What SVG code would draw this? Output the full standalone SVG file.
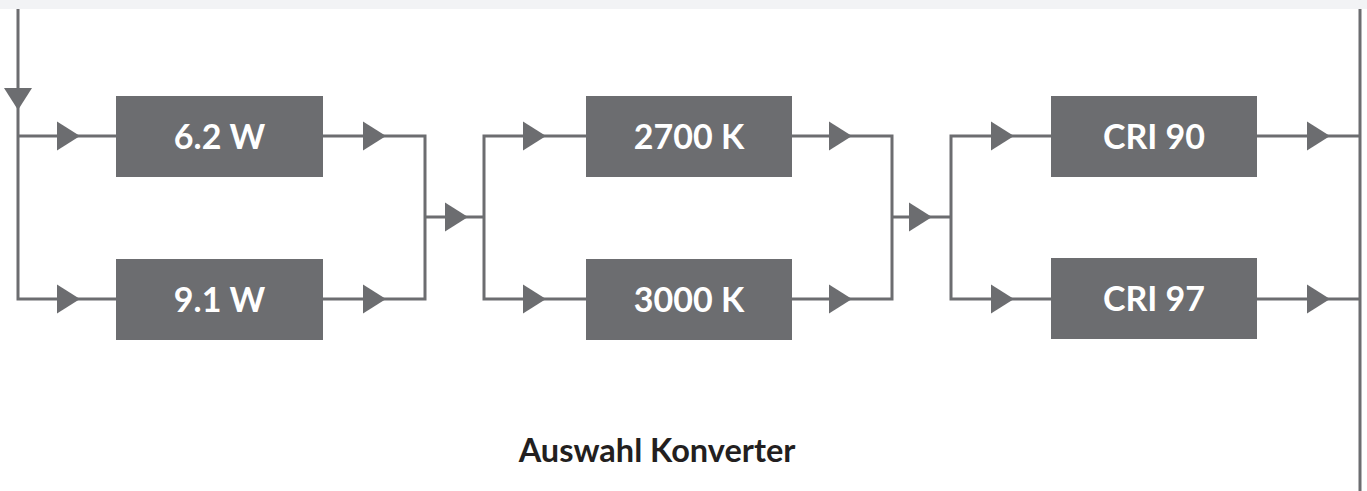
<svg xmlns="http://www.w3.org/2000/svg" xmlns:xlink="http://www.w3.org/1999/xlink" width="1367" height="491" viewBox="0 0 1367 491">
<style>
.box{fill:#6c6d70}
.lbl{font-family:Lato,"Open Sans",sans-serif;font-weight:700;font-size:34px;fill:#ffffff;text-anchor:middle}
.title{font-family:Lato,"Open Sans",sans-serif;font-weight:700;font-size:32.5px;fill:#231f20;text-anchor:middle}
.ln{fill:none;stroke:#6c6d70;stroke-width:3}
.ah{fill:#6c6d70}
</style>
<defs>
<path id="ar" d="M0,-14.5 L23,0 L0,14.5 Z"/>
</defs>
<rect x="0" y="0" width="1367" height="9" fill="#f2f3f5"/>
<g id="connectors">
<path class="ln" d="M18,9 V299 H116 M18,136 H116"/>
<path class="ln" d="M323,136 H425 V299 H323 M425,217 H484 M586,136 H484 V299 H586"/>
<path class="ln" d="M792,136 H892 V299 H792 M892,217 H951 M1051,136 H951 V299 H1051"/>
<path class="ln" d="M1257,136 H1360 M1257,299 H1360 M1360,9 V491"/>
<polygon class="ah" points="4,88 32,88 18,110"/>
<use href="#ar" class="ah" x="57" y="136"/>
<use href="#ar" class="ah" x="57" y="299"/>
<use href="#ar" class="ah" x="363" y="136"/>
<use href="#ar" class="ah" x="363" y="299"/>
<use href="#ar" class="ah" x="445" y="217"/>
<use href="#ar" class="ah" x="523" y="136"/>
<use href="#ar" class="ah" x="523" y="299"/>
<use href="#ar" class="ah" x="829" y="136"/>
<use href="#ar" class="ah" x="829" y="299"/>
<use href="#ar" class="ah" x="909" y="217"/>
<use href="#ar" class="ah" x="991" y="136"/>
<use href="#ar" class="ah" x="991" y="299"/>
<use href="#ar" class="ah" x="1307" y="136"/>
<use href="#ar" class="ah" x="1307" y="299"/>
</g>
<g id="n62w"><rect class="box" x="116" y="96" width="207" height="81"/><text class="lbl" x="219.5" y="149">6.2 W</text></g>
<g id="n91w"><rect class="box" x="116" y="259" width="207" height="81"/><text class="lbl" x="219.5" y="312">9.1 W</text></g>
<g id="n2700k"><rect class="box" x="586" y="96" width="206" height="81"/><text class="lbl" x="689" y="149">2700 K</text></g>
<g id="n3000k"><rect class="box" x="586" y="259" width="206" height="81"/><text class="lbl" x="689" y="312">3000 K</text></g>
<g id="ncri90"><rect class="box" x="1051" y="96" width="206" height="81"/><text class="lbl" x="1154" y="149">CRI 90</text></g>
<g id="ncri97"><rect class="box" x="1051" y="258" width="206" height="81"/><text class="lbl" x="1154" y="311">CRI 97</text></g>
<g id="title"><text class="title" x="657" y="462">Auswahl Konverter</text></g>
</svg>
